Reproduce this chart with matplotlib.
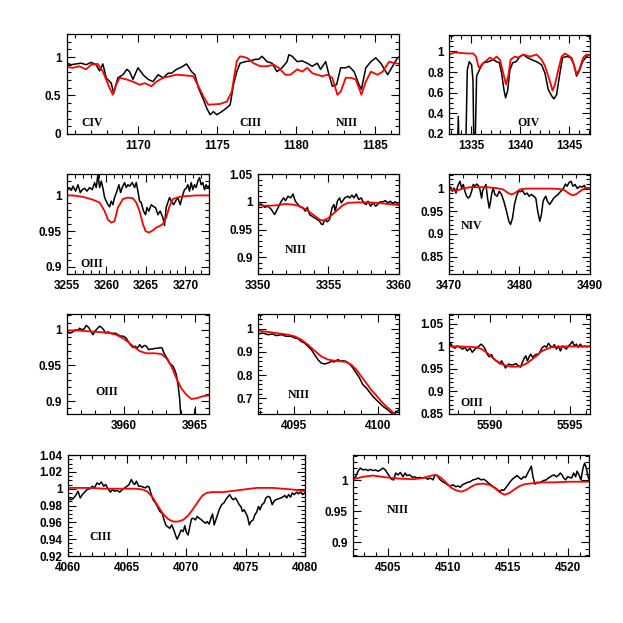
import matplotlib
matplotlib.use("Agg")
import matplotlib.pyplot as plt
from matplotlib.ticker import AutoMinorLocator, FuncFormatter

# ---- panel 1: CIV / CIII / NIII, 1165-1187 A ----
p1_obs_x = [1165.50, 1165.75, 1166.07, 1166.39, 1166.71, 1167.03, 1167.34, 1167.56, 1167.77, 1167.98,
            1168.30, 1168.45, 1168.72, 1169.04, 1169.29, 1169.46, 1169.67, 1169.99, 1170.31, 1170.63,
            1170.94, 1171.26, 1171.58, 1171.90, 1172.11, 1172.43, 1172.75, 1173.06, 1173.38, 1173.59,
            1173.81, 1174.12, 1174.33, 1174.55, 1174.76, 1174.97, 1175.29, 1175.61, 1175.82, 1176.03,
            1176.24, 1176.45, 1176.77, 1177.09, 1177.41, 1177.62, 1177.83, 1178.15, 1178.47, 1178.78,
            1179.10, 1179.42, 1179.53, 1179.74, 1180.06, 1180.37, 1180.69, 1181.01, 1181.33, 1181.54,
            1181.86, 1182.07, 1182.28, 1182.55, 1182.81, 1183.13, 1183.34, 1183.66, 1183.97, 1184.12,
            1184.40, 1184.72, 1185.03, 1185.35, 1185.78, 1186.09, 1186.41, 1186.58]
p1_obs_y = [0.92, 0.90, 0.91, 0.92, 0.90, 0.93, 0.90, 0.82, 0.91, 0.73,
            0.66, 0.53, 0.73, 0.77, 0.84, 0.81, 0.71, 0.86, 0.77, 0.71,
            0.68, 0.77, 0.73, 0.79, 0.79, 0.84, 0.87, 0.91, 0.81, 0.77,
            0.60, 0.45, 0.34, 0.25, 0.29, 0.25, 0.29, 0.34, 0.38, 0.64,
            0.81, 0.92, 0.94, 0.95, 0.97, 0.97, 1.01, 0.94, 0.92, 0.81,
            0.86, 0.94, 1.03, 1.01, 0.94, 0.95, 0.92, 0.88, 0.92, 0.84,
            0.94, 0.77, 0.62, 0.64, 0.86, 0.86, 0.88, 0.81, 0.64, 0.58,
            0.86, 0.94, 0.99, 0.92, 0.77, 0.88, 0.99, 1.01]
p1_mod_x = [1165.50, 1165.86, 1166.28, 1166.71, 1167.03, 1167.45, 1167.77, 1168.19, 1168.40, 1168.61,
            1168.83, 1169.25, 1169.67, 1170.10, 1170.42, 1170.84, 1171.16, 1171.58, 1172.00, 1172.43,
            1173.06, 1173.49, 1173.81, 1174.12, 1174.44, 1175.18, 1175.61, 1175.92, 1176.24, 1176.45,
            1176.88, 1177.30, 1177.72, 1178.15, 1178.57, 1178.89, 1179.31, 1179.63, 1180.06, 1180.37,
            1180.69, 1181.01, 1181.33, 1181.64, 1181.96, 1182.28, 1182.60, 1182.81, 1183.13, 1183.44,
            1183.76, 1184.12, 1184.40, 1184.72, 1185.14, 1185.46, 1185.88, 1186.20, 1186.58]
p1_mod_y = [0.87, 0.86, 0.88, 0.84, 0.90, 0.91, 0.81, 0.60, 0.51, 0.64,
            0.73, 0.71, 0.68, 0.64, 0.66, 0.62, 0.68, 0.73, 0.75, 0.77,
            0.76, 0.75, 0.62, 0.49, 0.38, 0.39, 0.42, 0.55, 0.95, 1.01,
            0.99, 0.92, 0.88, 0.88, 0.90, 0.86, 0.77, 0.77, 0.84, 0.81,
            0.86, 0.79, 0.77, 0.75, 0.77, 0.73, 0.51, 0.55, 0.73, 0.73,
            0.71, 0.51, 0.68, 0.81, 0.77, 0.81, 0.94, 0.92, 0.91]

# ---- panel 2: OIV, 1333-1347 A ----
p2_obs_x = [1333.60, 1333.70, 1333.80, 1334.45, 1334.62, 1334.82, 1335.06, 1335.20, 1335.30, 1335.40,
            1335.57, 1335.85, 1336.25, 1336.76, 1337.27, 1337.61, 1337.89, 1338.12, 1338.36, 1338.53,
            1338.74, 1338.97, 1339.25, 1339.59, 1340.00, 1340.34, 1340.74, 1341.19, 1341.70, 1342.21,
            1342.55, 1342.89, 1343.23, 1343.46, 1343.74, 1344.08, 1344.35, 1344.76, 1345.27, 1345.54,
            1345.78, 1346.05, 1346.39, 1346.80, 1347.14]
p2_obs_y = [0.00, 0.37, 0.00, 0.00, 0.82, 0.90, 0.87, 0.72, 0.00, 0.00,
            0.76, 0.82, 0.89, 0.90, 0.92, 0.90, 0.89, 0.79, 0.63, 0.55,
            0.62, 0.82, 0.89, 0.90, 0.95, 0.97, 0.94, 0.92, 0.90, 0.87,
            0.79, 0.63, 0.57, 0.54, 0.58, 0.79, 0.94, 0.95, 0.94, 0.86,
            0.76, 0.81, 0.90, 0.95, 0.97]
p2_mod_x = [1332.75, 1333.36, 1334.55, 1335.23, 1335.51, 1335.74, 1335.85, 1336.08, 1336.42, 1336.93,
            1337.27, 1337.61, 1337.95, 1338.29, 1338.57, 1338.80, 1339.04, 1339.48, 1339.82, 1340.34,
            1341.02, 1341.70, 1342.21, 1342.55, 1342.99, 1343.33, 1343.57, 1343.91, 1344.25, 1344.59,
            1345.10, 1345.44, 1345.78, 1346.05, 1346.46, 1346.80, 1347.14]
p2_mod_y = [0.97, 0.99, 0.98, 0.98, 0.95, 0.86, 0.84, 0.87, 0.90, 0.94,
            0.92, 0.95, 0.92, 0.79, 0.68, 0.76, 0.92, 0.95, 0.94, 0.97,
            0.95, 0.97, 0.92, 0.86, 0.73, 0.62, 0.68, 0.82, 0.95, 0.98,
            0.95, 0.89, 0.78, 0.82, 0.94, 0.97, 0.96]

# ---- panel 3: OIII, 3255-3273 A ----
p3_obs_x = [3255.00, 3255.25, 3255.55, 3255.76, 3256.10, 3256.39, 3256.69, 3256.94, 3257.24, 3257.53,
            3257.87, 3258.21, 3258.50, 3258.71, 3258.92, 3259.14, 3259.35, 3259.56, 3259.77, 3259.98,
            3260.19, 3260.40, 3260.61, 3260.82, 3261.03, 3261.33, 3261.58, 3261.79, 3262.00, 3262.30,
            3262.51, 3262.72, 3262.93, 3263.27, 3263.57, 3263.78, 3263.99, 3264.20, 3264.41, 3264.70,
            3264.96, 3265.13, 3265.38, 3265.68, 3265.89, 3266.22, 3266.52, 3266.81, 3267.15, 3267.36,
            3267.57, 3267.78, 3268.00, 3268.21, 3268.50, 3268.76, 3269.05, 3269.35, 3269.68, 3269.89,
            3270.11, 3270.32, 3270.53, 3270.74, 3270.95, 3271.16, 3271.37, 3271.58, 3271.79, 3272.00,
            3272.22, 3272.43, 3272.64, 3272.85, 3272.97]
p3_obs_y = [1.006, 1.011, 1.007, 1.013, 1.006, 1.015, 1.004, 1.008, 1.010, 1.006,
            1.011, 1.008, 1.018, 1.011, 1.029, 1.011, 1.020, 1.010, 0.997, 0.992,
            0.987, 0.984, 0.992, 0.987, 0.997, 1.006, 1.015, 1.004, 1.011, 1.018,
            1.011, 1.015, 1.013, 1.018, 1.011, 1.018, 1.006, 0.992, 0.990, 0.978,
            0.973, 0.983, 0.978, 0.987, 0.985, 0.983, 0.973, 0.978, 0.969, 0.958,
            0.983, 0.990, 0.997, 0.992, 0.987, 0.992, 0.997, 0.987, 1.001, 1.008,
            1.010, 1.015, 1.006, 1.018, 1.008, 1.015, 1.011, 1.020, 1.025, 1.015,
            1.018, 1.008, 1.015, 1.010, 1.013]
p3_mod_x = [3255.00, 3255.76, 3257.03, 3258.29, 3259.14, 3259.77, 3260.19, 3260.61, 3261.03, 3261.45,
            3262.09, 3262.72, 3263.35, 3263.78, 3264.20, 3264.62, 3264.96, 3265.38, 3265.89, 3266.31,
            3266.73, 3267.15, 3267.57, 3268.00, 3268.42, 3269.26, 3270.11, 3271.37, 3272.97]
p3_mod_y = [1.000, 1.000, 0.998, 0.994, 0.990, 0.978, 0.966, 0.962, 0.964, 0.983,
            0.995, 0.997, 0.996, 0.990, 0.978, 0.960, 0.950, 0.948, 0.951, 0.955,
            0.957, 0.960, 0.969, 0.985, 0.995, 0.998, 0.999, 1.000, 1.000]

# ---- panel 4: NIII, 3350-3360 A ----
p4_obs_x = [3350.00, 3350.24, 3350.47, 3350.71, 3350.95, 3351.18, 3351.42, 3351.65, 3351.82, 3351.96,
            3352.13, 3352.32, 3352.48, 3352.65, 3352.84, 3353.03, 3353.19, 3353.36, 3353.50, 3353.66,
            3353.83, 3354.02, 3354.21, 3354.37, 3354.49, 3354.61, 3354.73, 3354.92, 3355.08, 3355.25,
            3355.39, 3355.48, 3355.63, 3355.79, 3355.91, 3356.15, 3356.38, 3356.50, 3356.67, 3356.81,
            3356.97, 3357.14, 3357.33, 3357.49, 3357.68, 3357.80, 3357.99, 3358.16, 3358.35, 3358.51,
            3358.68, 3358.87, 3359.03, 3359.22, 3359.39, 3359.57, 3359.74, 3360.00]
p4_obs_y = [0.995, 0.996, 0.990, 0.992, 0.986, 0.977, 0.989, 1.001, 1.007, 1.002,
            1.010, 1.007, 1.014, 1.001, 0.995, 0.990, 0.989, 0.983, 0.990, 0.977,
            0.974, 0.971, 0.968, 0.965, 0.960, 0.959, 0.968, 0.964, 0.968, 0.989,
            0.995, 0.983, 1.001, 1.007, 0.998, 1.007, 1.010, 1.007, 1.012, 1.007,
            1.014, 1.004, 1.007, 0.998, 0.995, 1.001, 0.992, 0.998, 0.992, 0.996,
            1.000, 1.000, 1.002, 0.998, 1.001, 0.996, 1.000, 0.994]
p4_mod_x = [3350.00, 3350.47, 3350.95, 3351.42, 3351.89, 3352.48, 3352.96, 3353.43, 3353.90, 3354.37,
            3354.61, 3354.96, 3355.32, 3355.67, 3356.03, 3356.38, 3357.09, 3357.80, 3358.51, 3359.22,
            3360.00]
p4_mod_y = [0.994, 0.993, 0.993, 0.994, 0.996, 0.995, 0.992, 0.986, 0.977, 0.968,
            0.966, 0.970, 0.978, 0.986, 0.994, 0.998, 0.999, 0.999, 0.998, 0.996,
            0.994]

# ---- panel 5: NIV, 3470-3490 A ----
p5_obs_x = [3470.00, 3470.24, 3470.47, 3470.71, 3470.99, 3471.23, 3471.56, 3471.79, 3472.03, 3472.26,
            3472.50, 3472.74, 3472.97, 3473.21, 3473.44, 3473.68, 3473.92, 3474.15, 3474.39, 3474.62,
            3474.76, 3474.95, 3475.24, 3475.47, 3475.71, 3475.90, 3476.08, 3476.27, 3476.51, 3476.84,
            3477.12, 3477.45, 3477.78, 3478.16, 3478.49, 3478.73, 3479.01, 3479.29, 3479.58, 3479.86,
            3480.14, 3480.42, 3480.75, 3481.08, 3481.37, 3481.70, 3482.03, 3482.31, 3482.59, 3482.88,
            3483.11, 3483.35, 3483.54, 3483.73, 3483.96, 3484.29, 3484.58, 3484.86, 3485.14, 3485.47,
            3485.80, 3486.08, 3486.27, 3486.51, 3486.75, 3487.03, 3487.31, 3487.59, 3487.88, 3488.21,
            3488.54, 3488.87, 3489.20, 3489.48, 3489.76, 3490.00]
p5_obs_y = [0.998, 1.003, 0.994, 1.001, 0.990, 1.005, 1.016, 1.001, 1.009, 0.994,
            0.983, 0.979, 0.983, 0.994, 1.009, 1.005, 1.010, 1.007, 0.998, 0.979,
            0.994, 1.001, 1.009, 0.979, 0.957, 0.972, 0.990, 1.001, 0.987, 0.983,
            0.994, 0.987, 0.972, 0.950, 0.928, 0.921, 0.935, 0.965, 0.983, 0.994,
            0.993, 0.996, 0.987, 0.990, 0.983, 0.987, 0.983, 0.979, 0.950, 0.928,
            0.943, 0.972, 0.979, 0.983, 0.972, 0.965, 0.972, 0.979, 0.983, 0.987,
            0.993, 0.998, 1.001, 1.010, 1.005, 1.013, 1.016, 1.005, 1.009, 1.000,
            1.005, 1.003, 1.007, 0.998, 1.001, 1.001]
p5_mod_x = [3470.00, 3471.09, 3472.03, 3472.97, 3473.92, 3475.33, 3476.75, 3477.69, 3478.40, 3478.87,
            3479.34, 3480.05, 3481.00, 3482.41, 3484.29, 3485.71, 3486.42, 3487.12, 3487.59, 3488.07,
            3488.77, 3489.48, 3490.00]
p5_mod_y = [0.998, 0.996, 1.000, 1.003, 1.003, 1.003, 1.001, 0.998, 0.990, 0.987,
            0.990, 0.998, 1.000, 1.000, 1.000, 0.999, 0.996, 0.988, 0.985, 0.988,
            0.996, 1.002, 1.000]

# ---- panel 6: OIII, 3956-3966 A ----
p6_obs_x = [3956.00, 3956.19, 3956.42, 3956.61, 3956.77, 3956.89, 3957.06, 3957.20, 3957.36, 3957.53,
            3957.67, 3957.83, 3957.97, 3958.11, 3958.30, 3958.44, 3958.58, 3958.72, 3958.89, 3959.05,
            3959.24, 3959.43, 3959.59, 3959.76, 3959.94, 3960.13, 3960.30, 3960.46, 3960.65, 3960.81,
            3960.95, 3961.12, 3961.28, 3961.45, 3961.59, 3961.75, 3961.89, 3962.06, 3962.22, 3962.41,
            3962.57, 3962.71, 3962.83, 3962.95, 3963.11, 3963.23, 3963.35, 3963.46, 3963.58, 3963.70,
            3963.82, 3963.93, 3964.05, 3964.50, 3964.92, 3965.01, 3965.11, 3965.50, 3966.00]
p6_obs_y = [0.998, 0.995, 0.997, 1.000, 0.999, 1.002, 1.000, 1.001, 1.006, 1.003,
            0.998, 0.993, 0.998, 1.001, 1.005, 1.003, 1.000, 0.995, 0.997, 0.995,
            0.995, 0.995, 0.993, 0.991, 0.991, 0.989, 0.984, 0.979, 0.975, 0.977,
            0.974, 0.979, 0.975, 0.978, 0.977, 0.972, 0.973, 0.973, 0.974, 0.974,
            0.975, 0.974, 0.967, 0.963, 0.958, 0.953, 0.951, 0.949, 0.944, 0.937,
            0.923, 0.904, 0.870, 0.850, 0.870, 0.889, 0.870, 0.850, 0.850]
p6_mod_x = [3956.00, 3956.66, 3957.36, 3958.07, 3958.77, 3959.47, 3959.94, 3960.30, 3960.65, 3961.12,
            3961.59, 3962.17, 3962.64, 3963.00, 3963.35, 3963.70, 3964.05, 3964.40, 3964.76, 3965.11,
            3965.58, 3966.00]
p6_mod_y = [0.999, 0.999, 0.998, 0.997, 0.996, 0.993, 0.988, 0.983, 0.977, 0.970,
            0.967, 0.967, 0.966, 0.960, 0.949, 0.932, 0.918, 0.909, 0.903, 0.904,
            0.907, 0.908]

# ---- panel 7: NIII, 4093-4101 A ----
p7_obs_x = [4092.89, 4093.18, 4093.48, 4093.77, 4093.97, 4094.27, 4094.57, 4094.86, 4095.06, 4095.26,
            4095.45, 4095.65, 4095.85, 4096.05, 4096.25, 4096.44, 4096.64, 4096.84, 4097.04, 4097.23,
            4097.43, 4097.63, 4097.79, 4097.92, 4098.12, 4098.32, 4098.52, 4098.72, 4098.91, 4099.11,
            4099.31, 4099.51, 4099.70, 4099.90, 4100.10, 4100.30, 4100.49, 4100.69, 4100.89, 4101.09,
            4101.25]
p7_obs_y = [0.977, 0.981, 0.974, 0.977, 0.970, 0.974, 0.967, 0.967, 0.960, 0.957,
            0.945, 0.938, 0.924, 0.910, 0.888, 0.867, 0.852, 0.848, 0.852, 0.859,
            0.857, 0.867, 0.859, 0.862, 0.859, 0.848, 0.831, 0.809, 0.788, 0.759,
            0.745, 0.727, 0.709, 0.694, 0.680, 0.666, 0.656, 0.644, 0.633, 0.641,
            0.651]
p7_mod_x = [4092.89, 4093.48, 4094.07, 4094.66, 4095.06, 4095.45, 4095.85, 4096.25, 4096.64, 4097.04,
            4097.43, 4097.83, 4098.12, 4098.42, 4098.72, 4099.01, 4099.31, 4099.60, 4099.90, 4100.20,
            4100.49, 4100.79, 4101.09]
p7_mod_y = [0.991, 0.986, 0.980, 0.974, 0.967, 0.953, 0.931, 0.905, 0.881, 0.867,
            0.862, 0.859, 0.857, 0.845, 0.824, 0.795, 0.766, 0.737, 0.713, 0.687,
            0.666, 0.647, 0.627]

# ---- panel 8: OIII, 5587-5596 A ----
p8_obs_x = [5587.44, 5587.54, 5587.67, 5587.81, 5587.96, 5588.13, 5588.29, 5588.44, 5588.58, 5588.75,
            5588.90, 5589.06, 5589.21, 5589.33, 5589.44, 5589.58, 5589.71, 5589.83, 5589.96, 5590.10,
            5590.25, 5590.38, 5590.52, 5590.63, 5590.73, 5590.83, 5590.98, 5591.08, 5591.19, 5591.31,
            5591.46, 5591.63, 5591.77, 5591.92, 5592.04, 5592.15, 5592.25, 5592.35, 5592.46, 5592.56,
            5592.67, 5592.77, 5592.92, 5593.04, 5593.17, 5593.29, 5593.44, 5593.54, 5593.67, 5593.79,
            5593.92, 5594.04, 5594.17, 5594.29, 5594.42, 5594.54, 5594.67, 5594.79, 5594.92, 5595.04,
            5595.17, 5595.29, 5595.42, 5595.54, 5595.67, 5595.79, 5595.94, 5596.08, 5596.27]
p8_obs_y = [0.998, 1.007, 0.999, 0.996, 1.001, 0.998, 0.994, 0.998, 0.990, 0.996,
            0.987, 0.994, 0.998, 1.001, 1.005, 1.001, 0.994, 0.983, 0.977, 0.982,
            0.972, 0.968, 0.965, 0.961, 0.968, 0.962, 0.952, 0.957, 0.961, 0.959,
            0.959, 0.962, 0.957, 0.954, 0.965, 0.974, 0.979, 0.968, 0.977, 0.983,
            0.976, 0.979, 0.983, 0.982, 0.990, 0.998, 1.001, 0.998, 1.007, 1.001,
            0.998, 1.004, 0.994, 1.001, 0.990, 1.001, 0.998, 0.994, 1.001, 1.005,
            1.011, 1.001, 1.005, 0.998, 1.005, 0.999, 1.001, 0.999, 1.001]
p8_mod_x = [5587.44, 5588.13, 5588.75, 5589.17, 5589.48, 5589.79, 5590.10, 5590.42, 5590.73, 5591.04,
            5591.35, 5591.67, 5591.98, 5592.29, 5592.60, 5592.92, 5593.23, 5593.54, 5593.85, 5594.17,
            5594.79, 5595.42, 5596.27]
p8_mod_y = [1.000, 1.000, 0.999, 0.998, 0.994, 0.987, 0.977, 0.968, 0.961, 0.957,
            0.955, 0.955, 0.957, 0.962, 0.970, 0.979, 0.989, 0.994, 0.998, 0.999,
            1.000, 1.000, 1.000]

# ---- panel 9: CIII, 4060-4080 A ----
p9_obs_x = [4060.00, 4060.20, 4060.42, 4060.65, 4060.85, 4061.04, 4061.21, 4061.41, 4061.61, 4061.83,
            4062.06, 4062.25, 4062.45, 4062.62, 4062.82, 4063.01, 4063.18, 4063.38, 4063.58, 4063.75,
            4063.94, 4064.14, 4064.37, 4064.59, 4064.79, 4064.99, 4065.15, 4065.35, 4065.49, 4065.63,
            4065.77, 4065.97, 4066.14, 4066.34, 4066.54, 4066.70, 4066.85, 4066.99, 4067.18, 4067.38,
            4067.55, 4067.75, 4067.94, 4068.11, 4068.25, 4068.39, 4068.59, 4068.76, 4068.93, 4069.07,
            4069.21, 4069.38, 4069.55, 4069.72, 4069.86, 4070.00, 4070.14, 4070.28, 4070.42, 4070.56,
            4070.76, 4070.90, 4071.07, 4071.27, 4071.41, 4071.61, 4071.75, 4071.92, 4072.06, 4072.20,
            4072.34, 4072.48, 4072.62, 4072.76, 4072.96, 4073.15, 4073.32, 4073.52, 4073.66, 4073.80,
            4073.94, 4074.14, 4074.31, 4074.45, 4074.59, 4074.73, 4074.87, 4075.01, 4075.15, 4075.30,
            4075.44, 4075.63, 4075.77, 4075.92, 4076.08, 4076.20, 4076.37, 4076.54, 4076.70, 4076.90,
            4077.04, 4077.24, 4077.38, 4077.55, 4077.75, 4077.94, 4078.11, 4078.31, 4078.45, 4078.62,
            4078.79, 4078.93, 4079.10, 4079.30, 4079.46, 4079.63, 4079.80, 4080.00]
p9_obs_y = [0.991, 0.987, 0.988, 0.992, 0.997, 0.989, 0.993, 0.996, 0.999, 1.000,
            1.003, 1.001, 1.007, 1.005, 1.008, 1.003, 1.005, 1.000, 0.996, 0.999,
            0.997, 0.998, 0.996, 0.999, 1.001, 1.003, 1.005, 1.011, 1.007, 1.005,
            1.009, 1.003, 1.003, 1.002, 1.001, 1.003, 1.002, 0.995, 0.987, 0.983,
            0.979, 0.973, 0.971, 0.963, 0.957, 0.955, 0.953, 0.957, 0.951, 0.945,
            0.940, 0.945, 0.951, 0.949, 0.956, 0.948, 0.945, 0.955, 0.964, 0.965,
            0.963, 0.967, 0.965, 0.963, 0.961, 0.959, 0.961, 0.958, 0.965, 0.970,
            0.957, 0.963, 0.969, 0.975, 0.981, 0.983, 0.987, 0.991, 0.993, 0.989,
            0.987, 0.989, 0.985, 0.981, 0.979, 0.973, 0.975, 0.971, 0.967, 0.957,
            0.961, 0.963, 0.969, 0.972, 0.979, 0.975, 0.981, 0.983, 0.989, 0.991,
            0.990, 0.981, 0.985, 0.987, 0.988, 0.989, 0.990, 0.992, 0.989, 0.993,
            0.990, 0.995, 0.993, 0.996, 0.994, 0.996, 0.993, 0.995]
p9_mod_x = [4060.00, 4061.83, 4063.24, 4064.65, 4065.77, 4066.34, 4066.76, 4067.18, 4067.61, 4068.03,
            4068.45, 4068.87, 4069.30, 4069.72, 4070.14, 4070.56, 4070.99, 4071.35, 4071.69, 4072.11,
            4072.54, 4073.10, 4073.66, 4074.23, 4074.79, 4075.35, 4075.92, 4076.48, 4077.32, 4078.17,
            4079.01, 4079.58, 4080.00]
p9_mod_y = [1.001, 1.001, 1.000, 1.000, 1.000, 0.999, 0.996, 0.989, 0.979, 0.970,
            0.964, 0.961, 0.961, 0.963, 0.968, 0.976, 0.985, 0.992, 0.995, 0.996,
            0.996, 0.996, 0.997, 0.998, 0.999, 1.000, 1.001, 1.001, 1.001, 1.000,
            0.999, 0.998, 0.997]

# ---- panel 10: NIII, 4502-4522 A ----
p10_obs_x = [4502.08, 4502.31, 4502.50, 4502.69, 4502.92, 4503.14, 4503.33, 4503.53, 4503.75, 4503.97,
             4504.17, 4504.36, 4504.58, 4504.78, 4504.94, 4505.14, 4505.28, 4505.47, 4505.64, 4505.83,
             4506.03, 4506.25, 4506.42, 4506.58, 4506.81, 4507.03, 4507.22, 4507.42, 4507.64, 4507.86,
             4508.08, 4508.31, 4508.53, 4508.75, 4508.92, 4509.08, 4509.31, 4509.53, 4509.75, 4509.97,
             4510.19, 4510.42, 4510.64, 4510.86, 4511.03, 4511.19, 4511.42, 4511.64, 4511.86, 4512.08,
             4512.31, 4512.53, 4512.75, 4512.97, 4513.14, 4513.36, 4513.58, 4513.75, 4513.94, 4514.14,
             4514.31, 4514.47, 4514.64, 4514.81, 4515.00, 4515.19, 4515.36, 4515.56, 4515.75, 4515.92,
             4516.11, 4516.31, 4516.47, 4516.64, 4516.81, 4516.94, 4517.08, 4517.25, 4517.42, 4517.58,
             4517.78, 4517.97, 4518.19, 4518.36, 4518.53, 4518.69, 4518.86, 4519.03, 4519.19, 4519.36,
             4519.50, 4519.64, 4519.81, 4519.97, 4520.14, 4520.31, 4520.47, 4520.64, 4520.75, 4520.92,
             4521.08, 4521.25, 4521.39, 4521.53, 4521.67, 4521.75]
p10_obs_y = [1.004, 1.006, 1.015, 1.020, 1.017, 1.018, 1.016, 1.018, 1.016, 1.017,
             1.015, 1.017, 1.020, 1.017, 1.012, 1.006, 1.002, 1.001, 1.012, 1.009,
             1.013, 1.006, 1.012, 1.008, 1.009, 1.005, 1.006, 1.004, 1.005, 1.004,
             1.005, 1.002, 1.004, 1.001, 1.009, 1.008, 1.002, 0.998, 0.996, 0.993,
             0.991, 0.993, 0.990, 0.991, 0.989, 0.993, 0.995, 0.997, 0.998, 1.001,
             1.002, 1.004, 1.001, 1.002, 1.000, 0.996, 0.993, 0.990, 0.988, 0.985,
             0.982, 0.985, 0.984, 0.988, 0.993, 0.998, 1.002, 1.005, 1.008, 1.005,
             1.002, 1.006, 1.005, 1.012, 1.018, 1.023, 1.006, 0.994, 0.997, 0.996,
             0.998, 1.000, 1.001, 1.004, 1.006, 1.008, 1.009, 1.006, 1.008, 1.012,
             1.009, 1.004, 1.001, 1.006, 1.005, 1.004, 1.012, 1.006, 1.015, 1.009,
             1.001, 1.020, 1.028, 1.020, 1.006, 1.002]
p10_mod_x = [4502.08, 4502.92, 4503.75, 4504.86, 4505.97, 4507.08, 4507.92, 4508.61, 4509.03, 4509.44,
             4509.86, 4510.28, 4510.69, 4511.11, 4511.53, 4511.94, 4512.36, 4512.92, 4513.47, 4513.89,
             4514.31, 4514.72, 4515.14, 4515.56, 4515.97, 4516.39, 4516.81, 4517.64, 4518.75, 4520.14,
             4521.75]
p10_mod_y = [1.002, 1.006, 1.008, 1.005, 1.003, 1.002, 1.004, 1.008, 1.009, 1.004,
             0.996, 0.988, 0.984, 0.982, 0.985, 0.990, 0.994, 0.995, 0.993, 0.988,
             0.981, 0.977, 0.980, 0.986, 0.991, 0.994, 0.995, 0.997, 0.997, 0.998,
             0.998]

# axes boxes in figure fractions: left, bottom, width, height
PANELS = [
    dict(box=[0.1075, 0.785, 0.533, 0.1605], xlim=(1165.5, 1186.5), ylim=(0, 1.3),
         xt=[1170, 1175, 1180, 1185], yt=[0, 0.5, 1], ymin=5,
         obs=(p1_obs_x, p1_obs_y), mod=(p1_mod_x, p1_mod_y),
         labels=[("CIV", 1167.1, 0.14), ("CIII", 1177.1, 0.14), ("NIII", 1183.2, 0.14)]),
    dict(box=[0.7207, 0.785, 0.2263, 0.159], xlim=(1332.75, 1347.15), ylim=(0.2, 1.16),
         xt=[1335, 1340, 1345], yt=[0.2, 0.4, 0.6, 0.8, 1], ymin=4,
         obs=(p2_obs_x, p2_obs_y), mod=(p2_mod_x, p2_mod_y),
         labels=[("OIV", 1340.85, 0.31)]),
    dict(box=[0.1075, 0.5602, 0.228, 0.1605], xlim=(3255, 3273), ylim=(0.89, 1.03),
         xt=[3255, 3260, 3265, 3270], yt=[0.9, 0.95, 1], ymin=5,
         obs=(p3_obs_x, p3_obs_y), mod=(p3_mod_x, p3_mod_y),
         labels=[("OIII", 3258.1, 0.904)]),
    dict(box=[0.4141, 0.5602, 0.2263, 0.1605], xlim=(3350, 3360), ylim=(0.87, 1.05),
         xt=[3350, 3355, 3360], yt=[0.9, 0.95, 1, 1.05], ymin=5,
         obs=(p4_obs_x, p4_obs_y), mod=(p4_mod_x, p4_mod_y),
         labels=[("NIII", 3352.7, 0.914)]),
    dict(box=[0.7207, 0.5602, 0.2263, 0.1605], xlim=(3470, 3490), ylim=(0.812, 1.032),
         xt=[3470, 3480, 3490], yt=[0.85, 0.9, 0.95, 1], ymin=5,
         obs=(p5_obs_x, p5_obs_y), mod=(p5_mod_x, p5_mod_y),
         labels=[("NIV", 3473.2, 0.917)]),
    dict(box=[0.1075, 0.3355, 0.228, 0.1605], xlim=(3956, 3966), ylim=(0.882, 1.022),
         xt=[3960, 3965], yt=[0.9, 0.95, 1], ymin=5,
         obs=(p6_obs_x, p6_obs_y), mod=(p6_mod_x, p6_mod_y),
         labels=[("OIII", 3958.8, 0.913)]),
    dict(box=[0.4141, 0.3355, 0.2263, 0.1605], xlim=(4092.89, 4101.25), ylim=(0.633, 1.063),
         xt=[4095, 4100], yt=[0.7, 0.8, 0.9, 1], ymin=5,
         obs=(p7_obs_x, p7_obs_y), mod=(p7_mod_x, p7_mod_y),
         labels=[("NIII", 4095.3, 0.713)]),
    dict(box=[0.7207, 0.3355, 0.2263, 0.1605], xlim=(5587.44, 5596.27), ylim=(0.85, 1.072),
         xt=[5590, 5595], yt=[0.85, 0.9, 0.95, 1, 1.05], ymin=5,
         obs=(p8_obs_x, p8_obs_y), mod=(p8_mod_x, p8_mod_y),
         labels=[("OIII", 5588.85, 0.875)]),
    dict(box=[0.1091, 0.1075, 0.3804, 0.162], xlim=(4060, 4080), ylim=(0.92, 1.04),
         xt=[4060, 4065, 4070, 4075, 4080], yt=[0.92, 0.94, 0.96, 0.98, 1, 1.02, 1.04], ymin=4,
         obs=(p9_obs_x, p9_obs_y), mod=(p9_mod_x, p9_mod_y),
         labels=[("CIII", 4062.7, 0.943)]),
    dict(box=[0.5666, 0.1075, 0.3788, 0.162], xlim=(4502.08, 4521.75), ylim=(0.878, 1.041),
         xt=[4505, 4510, 4515, 4520], yt=[0.9, 0.95, 1], ymin=5,
         obs=(p10_obs_x, p10_obs_y), mod=(p10_mod_x, p10_mod_y),
         labels=[("NIII", 4505.8, 0.953)]),
]

TICK_FONT = dict(family="Liberation Sans", weight="bold", size=8.5)
LABEL_FONT = dict(family="Liberation Serif", weight="bold", size=8.5)


def _fmt(v, _pos):
    return f"{v:g}"


fig = plt.figure(figsize=(6.23, 6.23), dpi=100)
for p in PANELS:
    ax = fig.add_axes(p["box"])
    ax.plot(*p["obs"], color="black", lw=1.1)
    ax.plot(*p["mod"], color="red", lw=1.3)
    ax.set_xlim(*p["xlim"])
    ax.set_ylim(*p["ylim"])
    ax.set_xticks(p["xt"])
    ax.set_yticks(p["yt"])
    ax.xaxis.set_major_formatter(FuncFormatter(_fmt))
    ax.yaxis.set_major_formatter(FuncFormatter(_fmt))
    ax.xaxis.set_minor_locator(AutoMinorLocator(5))
    ax.yaxis.set_minor_locator(AutoMinorLocator(p["ymin"]))
    ax.tick_params(which="both", direction="in", top=True, right=True, width=0.8)
    ax.tick_params(which="major", length=6, pad=4)
    ax.tick_params(which="minor", length=3)
    for lab in ax.get_xticklabels() + ax.get_yticklabels():
        lab.set_fontfamily(TICK_FONT["family"])
        lab.set_fontweight(TICK_FONT["weight"])
        lab.set_fontsize(TICK_FONT["size"])
    for sp in ax.spines.values():
        sp.set_linewidth(0.9)
    for txt, x, y in p["labels"]:
        ax.text(x, y, txt, ha="center", va="center", **LABEL_FONT)

fig.savefig("out.png", dpi=100)
